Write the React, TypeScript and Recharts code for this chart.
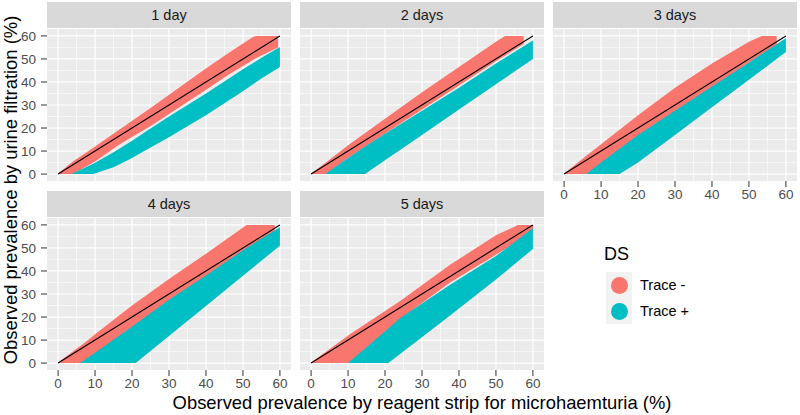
import React from "react";
import { ComposedChart, Area, Line, XAxis, YAxis, CartesianGrid } from "recharts";

const facetLabels = ["1 day", "2 days", "3 days", "4 days", "5 days"];
const axisTicks = [0, 10, 20, 30, 40, 50, 60];
const minorTicks = [5, 15, 25, 35, 45, 55];
const identity = [0, 60];

// band edges: [reagent strip %, filtration low %, filtration high %]
const day1Minus = [[0, 0, 0.3], [4, 0, 5.5], [10, 5.5, 12], [16.7, 13, 19.5], [25.7, 21.5, 29.5], [39.2, 35.8, 45], [46, 43, 52.5], [52.7, 49.5, 59.5], [53.5, 50.3, 60], [59.5, 55, 60]];
const day1Plus = [[3.6, 0, 0], [9.5, 0, 4.5], [15, 3, 9.5], [20, 7, 14.5], [25, 11.5, 19.8], [30, 16, 25], [40, 25.5, 35], [50, 36, 45.5], [55, 41.5, 50.5], [60, 46.5, 55.2]];

const day2Minus = [[0, 0, 0.3], [4, 0, 5], [10, 7, 12.5], [20, 17.5, 24], [30, 28, 35.5], [40, 38.5, 46.5], [50, 49, 57.5], [52.5, 51.5, 60], [57.5, 56.5, 60]];
const day2Plus = [[3.8, 0, 0], [10, 0, 7], [14.6, 0, 12], [20, 6, 17.5], [30, 17, 27.5], [40, 28, 37.5], [50, 39, 48], [60, 50, 58]];

const day3Minus = [[0, 0, 0.3], [6, 0, 8], [10, 4, 13], [20, 15.5, 25.5], [30, 26.5, 37.5], [40, 37.5, 48], [50, 48.5, 57.5], [53.5, 52, 60], [57.5, 56, 60]];
const day3Plus = [[6, 0, 0], [10, 0, 5], [15, 0, 11], [20, 5, 17], [30, 17, 27.5], [40, 29, 38], [50, 41, 48.5], [60, 53, 59]];

const day4Minus = [[0, 0, 0.3], [7.7, 0, 9.5], [10, 2.5, 12.5], [20, 14, 25], [30, 25.5, 36.5], [40, 37, 47.5], [51, 49.5, 60], [58.6, 57.5, 60]];
const day4Plus = [[6, 0, 0], [10, 0, 4.5], [21, 0, 17], [30, 11.8, 27.5], [40, 24.8, 38], [50, 37.9, 49], [60, 51, 59]];

const day5Minus = [[0, 0, 0.3], [10.5, 0, 12.5], [24, 19, 26.8], [37.6, 35, 42.7], [50, 47, 55.5], [56, 53, 60], [60, 57.5, 60]];
const day5Plus = [[10, 0, 0], [20.9, 0, 15], [24, 3.8, 19.5], [37.6, 20.7, 34], [50, 36.3, 46.5], [60, 49.5, 58.5]];

const RED = "#F8766D";
const CYAN = "#00BFC4";
const FONT = "'Liberation Sans', Arial, sans-serif";

function buildRows(minus: number[][], plus: number[][]) {
  const rows = new Map<number, any>();
  const get = (x: number) => {
    if (!rows.has(x)) rows.set(x, { x });
    return rows.get(x);
  };
  minus.forEach(([x, lo, hi]) => (get(x).minus = [lo, hi]));
  plus.forEach(([x, lo, hi]) => (get(x).plus = [lo, hi]));
  identity.forEach((v) => (get(v).line = v));
  return [...rows.values()].sort((a, b) => a.x - b.x);
}

const PW = 244;
const PH = 152;
const tickStyle = { fill: "#4D4D4D", fontSize: 13.5 };

function Facet({ label, minus, plus, left, top, showX, showY }: any) {
  const yW = showY ? 47 : 0;
  const xH = showX ? 26 : 0;
  const rows = buildRows(minus, plus);
  return (
    <>
      <div
        style={{
          position: "absolute",
          left,
          top: top - 27,
          width: PW,
          height: 26,
          background: "#D9D9D9",
          color: "#1A1A1A",
          fontSize: 14.5,
          lineHeight: "26px",
          textAlign: "center",
        }}
      >
        {label}
      </div>
      <div style={{ position: "absolute", left: left - yW, top }}>
        <ComposedChart width={PW + yW} height={PH + xH} data={rows} margin={{ top: 0, right: 0, bottom: 0, left: 0 }}>
          <CartesianGrid fill="#EBEBEB" stroke="#FFFFFF" strokeWidth={0.6} horizontalValues={minorTicks} verticalValues={minorTicks} />
          <CartesianGrid stroke="#FFFFFF" strokeWidth={1.2} horizontalValues={axisTicks} verticalValues={axisTicks} />
          <XAxis
            type="number"
            dataKey="x"
            domain={[-3, 63]}
            ticks={axisTicks}
            interval={0}
            allowDataOverflow
            hide={!showX}
            height={xH}
            axisLine={false}
            tickLine={{ stroke: "#333333" }}
            tickSize={6}
            tickMargin={2}
            tick={tickStyle}
          />
          <YAxis
            type="number"
            domain={[-3, 63]}
            ticks={axisTicks}
            interval={0}
            allowDataOverflow
            hide={!showY}
            width={yW}
            axisLine={false}
            tickLine={{ stroke: "#333333" }}
            tickSize={6}
            tickMargin={5}
            tick={tickStyle}
          />
          <Area dataKey="minus" type="linear" fill={RED} fillOpacity={1} stroke="none" connectNulls activeDot={false} isAnimationActive={false} />
          <Area dataKey="plus" type="linear" fill={CYAN} fillOpacity={1} stroke="none" connectNulls activeDot={false} isAnimationActive={false} />
          <Line dataKey="line" type="linear" stroke="#000000" strokeWidth={1.1} dot={false} activeDot={false} connectNulls isAnimationActive={false} />
        </ComposedChart>
      </div>
    </>
  );
}

export default function App() {
  const bands = [
    [day1Minus, day1Plus],
    [day2Minus, day2Plus],
    [day3Minus, day3Plus],
    [day4Minus, day4Plus],
    [day5Minus, day5Plus],
  ];
  const cols = [47, 300, 553];
  const rowTops = [29, 218];
  return (
    <div style={{ position: "absolute", left: 0, top: 0, width: 800, height: 415, background: "#fff", fontFamily: FONT }}>
      <svg width={800} height={415} style={{ position: "absolute", left: 0, top: 0 }}>
        <text x={422} y={409} textAnchor="middle" fontSize={18.4} fill="#000" fontFamily={FONT}>
          Observed prevalence by reagent strip for microhaemturia (%)
        </text>
        <text transform="translate(17,190) rotate(-90)" textAnchor="middle" fontSize={18.4} fill="#000" fontFamily={FONT}>
          Observed prevalence by urine filtration (%)
        </text>
      </svg>
      {facetLabels.map((label, i) => {
        const col = i % 3;
        const row = Math.floor(i / 3);
        return (
          <Facet
            key={label}
            label={label}
            minus={bands[i][0]}
            plus={bands[i][1]}
            left={cols[col]}
            top={rowTops[row]}
            showY={col === 0}
            showX={row === 1 || i === 2}
          />
        );
      })}
      <div style={{ position: "absolute", left: 604, top: 244, fontSize: 18, color: "#000" }}>DS</div>
      {["Trace -", "Trace +"].map((name, i) => (
        <div key={name} style={{ position: "absolute", left: 606, top: 272 + i * 26, height: 26, display: "flex", alignItems: "center" }}>
          <div style={{ width: 26, height: 26, background: "#F2F2F2", display: "flex", alignItems: "center", justifyContent: "center" }}>
            <div style={{ width: 17, height: 17, borderRadius: "50%", background: i === 0 ? RED : CYAN }} />
          </div>
          <span style={{ marginLeft: 8, fontSize: 14.5, color: "#000" }}>{name}</span>
        </div>
      ))}
    </div>
  );
}
